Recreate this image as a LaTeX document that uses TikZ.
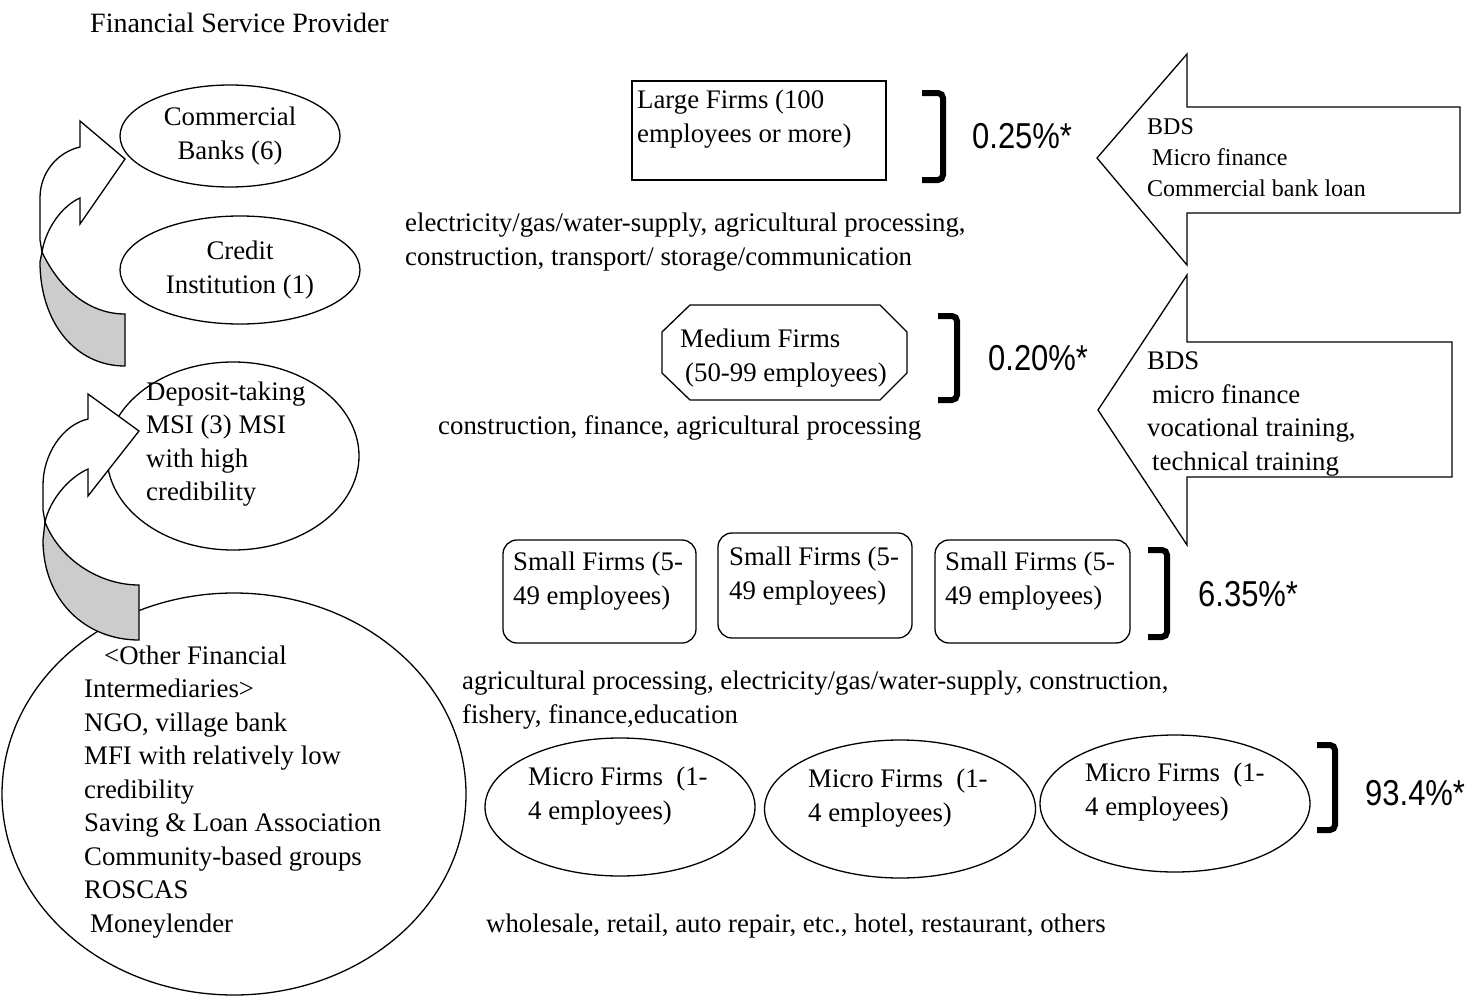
\documentclass[tikz,border=0pt]{standalone}
\usepackage{fontspec}
\setmainfont{Liberation Serif}
\newfontfamily\pctfont[FakeStretch=0.86]{Liberation Sans}
\usetikzlibrary{shapes.geometric}
\begin{document}
\begin{tikzpicture}[x=1pt,y=-1pt,
  txt/.style={font=\fontsize{26.8}{33.5}\selectfont, inner sep=0pt, align=left, anchor=west},
  pct/.style={font=\pctfont\fontsize{36}{40}\selectfont, inner sep=0pt, anchor=west},
  oval/.style={ellipse, draw, line width=1.3pt, inner sep=0pt, font=\fontsize{26.8}{33.5}\selectfont, align=center},
  firmbox/.style={draw, line width=1.3pt, inner sep=0pt},
  brk/.style={line width=6pt, rounded corners=5pt},
  curvearrow/.style={draw, line width=1.3pt, line join=miter},
  bds/.style={draw, fill=white, line width=1.3pt, line join=miter}]
\useasboundingbox (0,0) rectangle (1469,998);

% heading
\node[txt, font=\fontsize{28}{33.5}\selectfont] (title) at (90,23) {Financial Service Provider};

% financial service providers
\node[oval, minimum width=220pt, minimum height=102pt] (cb) at (230,136) {Commercial\\Banks (6)};
\node[oval, minimum width=240pt, minimum height=108pt] (ci) at (240,270) {Credit\\Institution (1)};
\node[oval, minimum width=252pt, minimum height=188pt] (dt) at (233,456) {};
\node[txt] (dtt) at (146,444) {Deposit-taking\\MSI (3) MSI\\with high\\credibility};
\node[oval, minimum width=464pt, minimum height=402pt] (ofi) at (234,794) {};
\node[txt] (ofit) at (84,792) {\hspace*{20pt}<Other Financial\\Intermediaries>\\NGO, village bank\\MFI with relatively low\\credibility\\Saving \& Loan Association\\Community-based groups\\ROSCAS\\\hspace*{6pt}Moneylender};

% curved arrow up to the commercial banks
\filldraw[curvearrow, fill=gray!40] (42,252) .. controls (60,290) and (90,314) .. (125,314) -- (125,366)
  .. controls (75,366) and (40,322) .. (40,262) -- cycle;
\filldraw[curvearrow, fill=white] (42,252) -- (40,240) -- (40,198) .. controls (40,172) and (58,152) .. (80,147)
  -- (80,121) -- (125,159) -- (80,224) -- (80,198) .. controls (62,206) and (46,228) .. (42,252) -- cycle;

% curved arrow up to the deposit-taking MSI
\filldraw[curvearrow, fill=gray!40] (45,522) .. controls (60,560) and (100,585) .. (139,585) -- (139,640)
  .. controls (85,640) and (43,600) .. (43,540) -- cycle;
\filldraw[curvearrow, fill=white] (45,522) -- (43,510) -- (43,485) .. controls (43,455) and (62,425) .. (88,419)
  -- (88,394) -- (139,431) -- (88,496) -- (88,469) .. controls (68,478) and (50,500) .. (45,522) -- cycle;

% large firms
\node[firmbox, minimum width=254pt, minimum height=99pt] (lf) at (759,130.5) {};
\node[txt] (lft) at (637,119) {Large Firms (100\\employees or more)};
\draw[brk] (922,93) -- (943,93) -- (943,180) -- (922,180);
\node[pct] (lfp) at (972,136) {0.25\%*};
\node[txt] (lfs) at (405,242) {electricity/gas/water-supply, agricultural processing,\\construction, transport/ storage/communication};

% medium firms
\draw[line width=1.3pt] (690,305) -- (880,305) -- (907,332) -- (907,373) -- (880,400) -- (690,400) -- (662,373) -- (662,332) -- cycle;
\node[txt] (mdt) at (680,358) {Medium Firms\\\hspace*{5pt}(50-99 employees)};
\draw[brk] (938,316) -- (957,316) -- (957,400) -- (938,400);
\node[pct] (mdp) at (988,358) {0.20\%*};
\node[txt] (mds) at (438,428) {construction, finance, agricultural processing};

% business development services
\draw[bds] (1097,158) -- (1187,54) -- (1187,107) -- (1460,107) -- (1460,213) -- (1187,213) -- (1187,265) -- cycle;
\node[txt, font=\fontsize{24}{31}\selectfont] (bds1) at (1147,158) {BDS\\\hspace*{5pt}Micro finance\\Commercial bank loan};
\draw[bds] (1098,410) -- (1187,275) -- (1187,342) -- (1452,342) -- (1452,477) -- (1187,477) -- (1187,545) -- cycle;
\node[txt] (bds2) at (1147,414) {BDS\\\hspace*{5pt}micro finance\\vocational training,\\\hspace*{5pt}technical training};

% small firms
\node[firmbox, rounded corners=14pt, minimum width=193pt, minimum height=103pt] (sf1) at (599.5,591.5) {};
\node[firmbox, rounded corners=14pt, minimum width=194pt, minimum height=105pt] (sf2) at (815,585.5) {};
\node[firmbox, rounded corners=14pt, minimum width=195pt, minimum height=103pt] (sf3) at (1032.5,591.5) {};
\node[txt] (sf1t) at (513,581) {Small Firms (5-\\49 employees)};
\node[txt] (sf2t) at (729,576) {Small Firms (5-\\49 employees)};
\node[txt] (sf3t) at (945,581) {Small Firms (5-\\49 employees)};
\draw[brk] (1148,550) -- (1167,550) -- (1167,637) -- (1148,637);
\node[pct] (sfp) at (1198,594) {6.35\%*};
\node[txt] (sfs) at (462,700) {agricultural processing, electricity/gas/water-supply, construction,\\fishery, finance,education};

% micro firms
\node[oval, minimum width=270pt, minimum height=138pt] (mf1) at (620,807) {};
\node[oval, minimum width=271pt, minimum height=138pt] (mf2) at (900,809) {};
\node[oval, minimum width=270pt, minimum height=137pt] (mf3) at (1175,803.5) {};
\node[txt] (mf1t) at (528,796) {Micro Firms\ \ (1-\\4 employees)};
\node[txt] (mf2t) at (808,798) {Micro Firms\ \ (1-\\4 employees)};
\node[txt] (mf3t) at (1085,792) {Micro Firms\ \ (1-\\4 employees)};
\draw[brk] (1317,745) -- (1335,745) -- (1335,830) -- (1317,830);
\node[pct] (mfp) at (1365,793) {93.4\%*};
\node[txt] (mfs) at (486,926) {wholesale, retail, auto repair, etc., hotel, restaurant, others};
\end{tikzpicture}
\end{document}
